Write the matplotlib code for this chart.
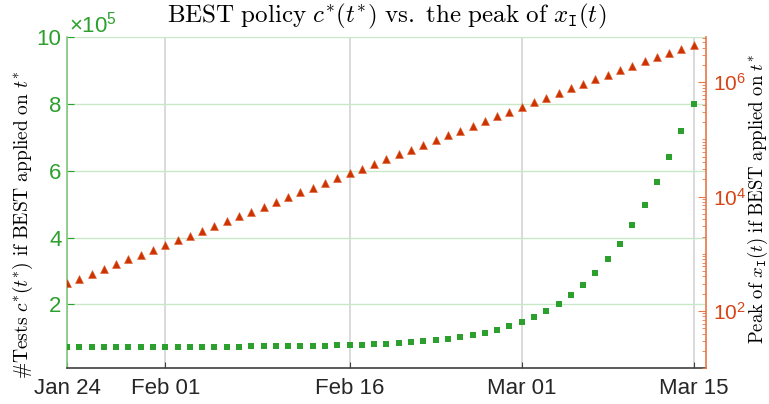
import math
import matplotlib
matplotlib.use('Agg')
import matplotlib.pyplot as plt
import matplotlib.ticker as mticker
import pandas as pd

plt.rcParams['font.family'] = ['Liberation Sans', 'DejaVu Sans']
plt.rcParams['mathtext.fontset'] = 'cm'

# ---- data ----
dates = pd.date_range('2020-01-24', '2020-03-15', freq='D')
tests = [72000] * 15 + [75000] * 7 + [78000] * 3 + [81000] * 2 + [
    84000, 87000, 90000, 93000, 96000, 102000, 109000, 114000, 123000,
    135000, 147000, 162000, 180000, 201000, 228000, 257000, 293000,
    335000, 380000, 437000, 497000, 566000, 640000, 718000, 799000]
peaks = [305, 367, 444, 543, 656, 804, 966, 1167, 1429, 1726, 2080, 2541,
         3069, 3758, 4539, 5470, 6683, 8147, 9886, 11940, 14390, 17380,
         20990, 25640, 30900, 37330, 45080, 55210, 66370, 81280, 98170,
         118600, 142900, 172600, 211300, 255300, 306900, 371500, 448700,
         539500, 653100, 788900, 948400, 1148000, 1365000, 1648000,
         1959000, 2339000, 2780000, 3311000, 3890000, 4571000]
xtick_dates = ['2020-01-24', '2020-02-01', '2020-02-16', '2020-03-01', '2020-03-15']
xtick_labels = ['Jan 24', 'Feb 01', 'Feb 16', 'Mar 01', 'Mar 15']
left_ticks = [200000, 400000, 600000, 800000, 1000000]
left_tick_labels = ['2', '4', '6', '8', '10']
right_ticks = [1e2, 1e4, 1e6]

GREEN = '#2ca02c'
GREEN_SPINE = '#80c880'
GREEN_GRID = '#c8e8c8'
RED = '#cc3300'
RED_TXT = '#d84315'
RED_SPINE = '#e8784a'
DARK = '#262626'

fig = plt.figure(figsize=(7.69, 4.04), dpi=100)
ax = fig.add_axes([67 / 769, 1 - 368 / 404, (706 - 67) / 769, (368 - 37) / 404])
ax2 = ax.twinx()

ax.plot(dates, tests, linestyle='none', marker='s', markersize=4.0,
        color=GREEN, markeredgewidth=0, zorder=3)
ax2.plot(dates, peaks, linestyle='none', marker='^', markersize=5.5,
         color=RED, markeredgewidth=0.4, markeredgecolor='#e06030', zorder=3)

ax.set_xlim(pd.Timestamp('2020-01-24'), pd.Timestamp('2020-03-16'))
ax.set_ylim(10000, 1000000)
ax2.set_yscale('log')
ax2.set_ylim(10, 6.2e6)

ax.set_xticks([pd.Timestamp(d) for d in xtick_dates])
ax.set_xticklabels(xtick_labels)
ax.set_yticks(left_ticks)
ax.set_yticklabels(left_tick_labels)

ax2.yaxis.set_major_locator(mticker.FixedLocator(right_ticks))
ax2.yaxis.set_major_formatter(mticker.FuncFormatter(
    lambda v, p: r'$\mathregular{10^{%d}}$' % round(math.log10(v))))
ax2.yaxis.set_minor_locator(mticker.LogLocator(base=10, subs=range(1, 10), numticks=20))
ax2.yaxis.set_minor_formatter(mticker.NullFormatter())

# grids
ax.grid(axis='x', color='#d4d4d4', linewidth=1.2)
ax.grid(axis='y', color=GREEN_GRID, linewidth=1.0)
ax.set_axisbelow(True)

# spines
for s in ['top', 'right']:
    ax.spines[s].set_visible(False)
ax.spines['left'].set_color(GREEN_SPINE)
ax.spines['left'].set_linewidth(1.2)
ax.spines['bottom'].set_color('#404040')
ax.spines['bottom'].set_linewidth(1.2)
for s in ['top', 'left', 'bottom']:
    ax2.spines[s].set_visible(False)
ax2.spines['right'].set_color(RED_SPINE)
ax2.spines['right'].set_linewidth(1.2)

ax.tick_params(axis='x', direction='in', length=4, color='#404040',
               labelsize=16, labelcolor=DARK, pad=7)
ax.tick_params(axis='y', direction='in', length=5, color=GREEN,
               labelsize=16, labelcolor=GREEN, pad=4)
ax2.tick_params(axis='y', which='major', direction='in', length=6, color=RED_SPINE,
                labelsize=15, labelcolor=RED_TXT, pad=5)
ax2.tick_params(axis='y', which='minor', direction='in', length=3, color=RED_SPINE)

# offset text
fig.text(69 / 769, 1 - 32 / 404, r'$\mathregular{\times 10^{5}}$', color=GREEN,
         fontsize=16, ha='left', va='baseline')

# title and labels
fig.text(386.5 / 769, 1 - 22.7 / 404,
         r'$\mathrm{BEST\ policy\ }c^{*}(t^{*})\mathrm{\ vs.\ the\ peak\ of\ }x_{\mathtt{I}}(t)$',
         fontsize=18, ha='center', va='baseline', color='black')
fig.text(23 / 769, 1 - 225 / 404,
         r'$\#\mathrm{Tests\ }c^{*}(t^{*})\mathrm{\ if\ BEST\ applied\ on\ }t^{*}$',
         fontsize=14, rotation=90, ha='center', va='center')
fig.text(758 / 769, 1 - 199 / 404,
         r'$\mathrm{Peak\ of\ }x_{\mathtt{I}}(t)\mathrm{\ if\ BEST\ applied\ on\ }t^{*}$',
         fontsize=13.5, rotation=90, ha='center', va='center')

fig.savefig('out.png', dpi=100)
